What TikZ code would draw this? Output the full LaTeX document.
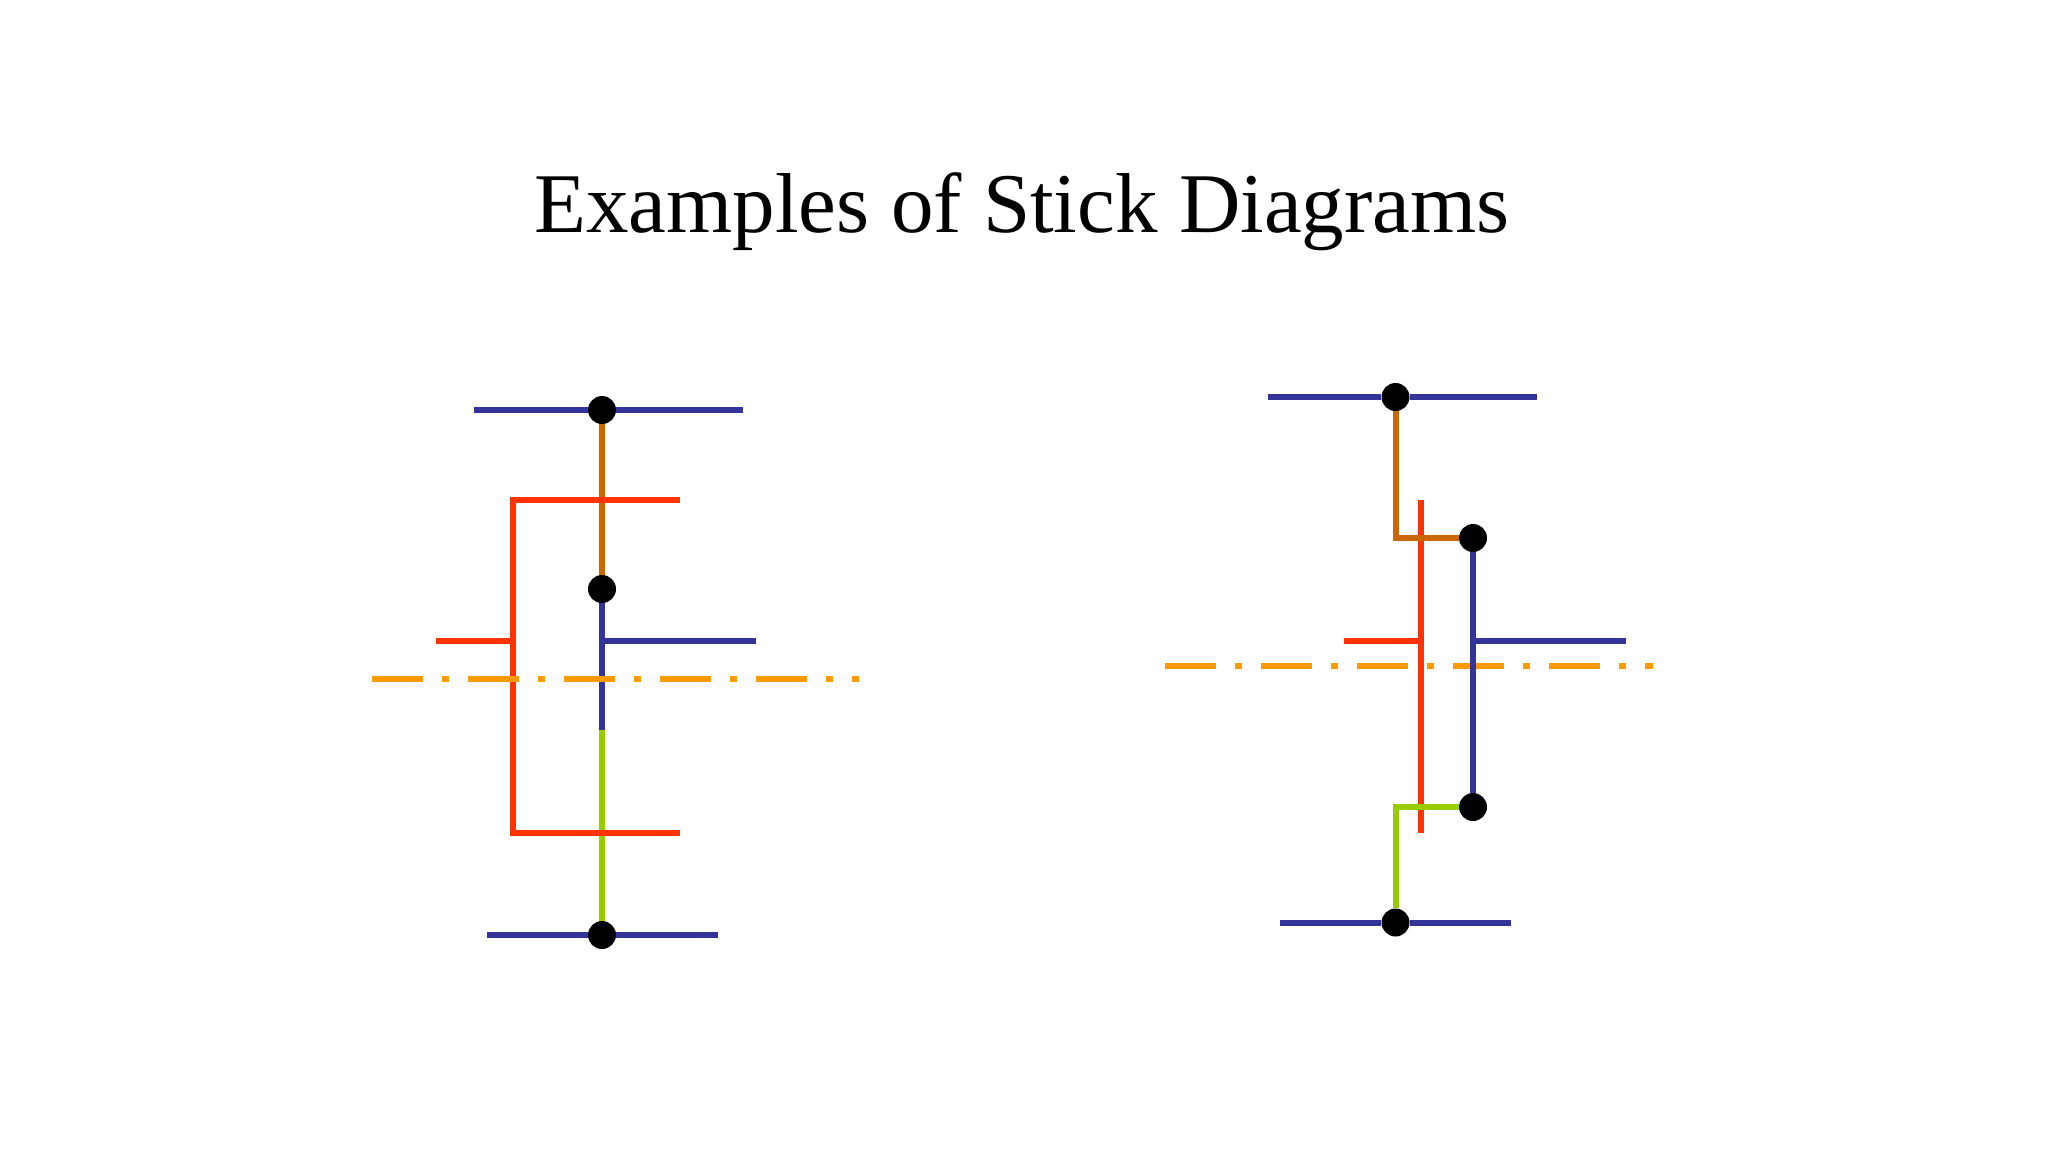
\documentclass[tikz,border=0pt]{standalone}
\usepackage{fontspec}
\setmainfont{Liberation Serif}
\definecolor{metalblue}{HTML}{333399}
\definecolor{polyred}{HTML}{FF3300}
\definecolor{pdiffbrown}{HTML}{CC6600}
\definecolor{ndiffgreen}{HTML}{99CC00}
\definecolor{cutorange}{HTML}{FF9900}
\tikzset{
  contact/.style={circle,fill=black,inner sep=0pt,minimum size=14pt},
  stick/.style={line width=3pt},
  cutline/.style={stick,cutorange,dash pattern=on 25.5pt off 9.5pt on 3.5pt off 9.5pt}
}
\begin{document}
\begin{tikzpicture}[x=.5pt,y=-.5pt]
      \useasboundingbox (0,0) rectangle (2048,1152);

      \node[font=\fontsize{42.5}{50}\selectfont,anchor=base] (title) at (1022,232) {Examples of Stick Diagrams};

      % left diagram
      \node[contact] (1) at (602,410) {};
      \node[contact] (2) at (602,589) {};
      \node[contact] (3) at (602,935) {};

      \coordinate (a1) at (474,410);
      \coordinate (a2) at (743,410);
      \coordinate (a3) at (487,935);
      \coordinate (a4) at (718,935);
      \coordinate (a5) at (602,730);
      \coordinate (a6) at (602,641);
      \coordinate (a7) at (756,641);
      \coordinate (a8) at (680,500);
      \coordinate (a9) at (513,500);
      \coordinate (a10) at (513,833);
      \coordinate (a11) at (680,833);
      \coordinate (a12) at (436,641);
      \coordinate (a13) at (513,641);
      \coordinate (a14) at (372,679);
      \coordinate (a15) at (859,679);

      \begin{scope}[every path/.style={stick,metalblue}]
        \draw (a1) -- (1);
        \draw (1) -- (a2);
        \draw (a3) -- (3);
        \draw (3) -- (a4);
        \draw (2) -- (a5);
        \draw (a6) -- (a7);
      \end{scope}
      \draw[stick,pdiffbrown] (1) -- (2);
      \draw[stick,ndiffgreen] (a5) -- (3);
      \draw[stick,polyred] (a8) -- (a9) -- (a10) -- (a11);
      \draw[stick,polyred] (a12) -- (a13);
      \draw[cutline] (a14) -- (a15);

      % right diagram
      \node[contact] (4) at (1395.5,397) {};
      \node[contact] (5) at (1473,538) {};
      \node[contact] (6) at (1473,807) {};
      \node[contact] (7) at (1395.5,922.5) {};

      \coordinate (b1) at (1267.5,397);
      \coordinate (b2) at (1536.5,397);
      \coordinate (b3) at (1280,922.5);
      \coordinate (b4) at (1511,922.5);
      \coordinate (b5) at (1473,641);
      \coordinate (b6) at (1626,641);
      \coordinate (b7) at (1421,500);
      \coordinate (b8) at (1421,833);
      \coordinate (b9) at (1344,641);
      \coordinate (b10) at (1421,641);
      \coordinate (b11) at (1165,666);
      \coordinate (b12) at (1653,666);

      \draw[cutline] (b11) -- (b12);
      \draw[stick,polyred] (b7) -- (b8);
      \draw[stick,polyred] (b9) -- (b10);
      \begin{scope}[every path/.style={stick,metalblue}]
        \draw (b1) -- (4);
        \draw (4) -- (b2);
        \draw (b3) -- (7);
        \draw (7) -- (b4);
        \draw (5) -- (6);
        \draw (b5) -- (b6);
      \end{scope}
      \draw[stick,pdiffbrown] (4) |- (5);
      \draw[stick,ndiffgreen] (7) |- (6);

    \end{tikzpicture}
\end{document}
